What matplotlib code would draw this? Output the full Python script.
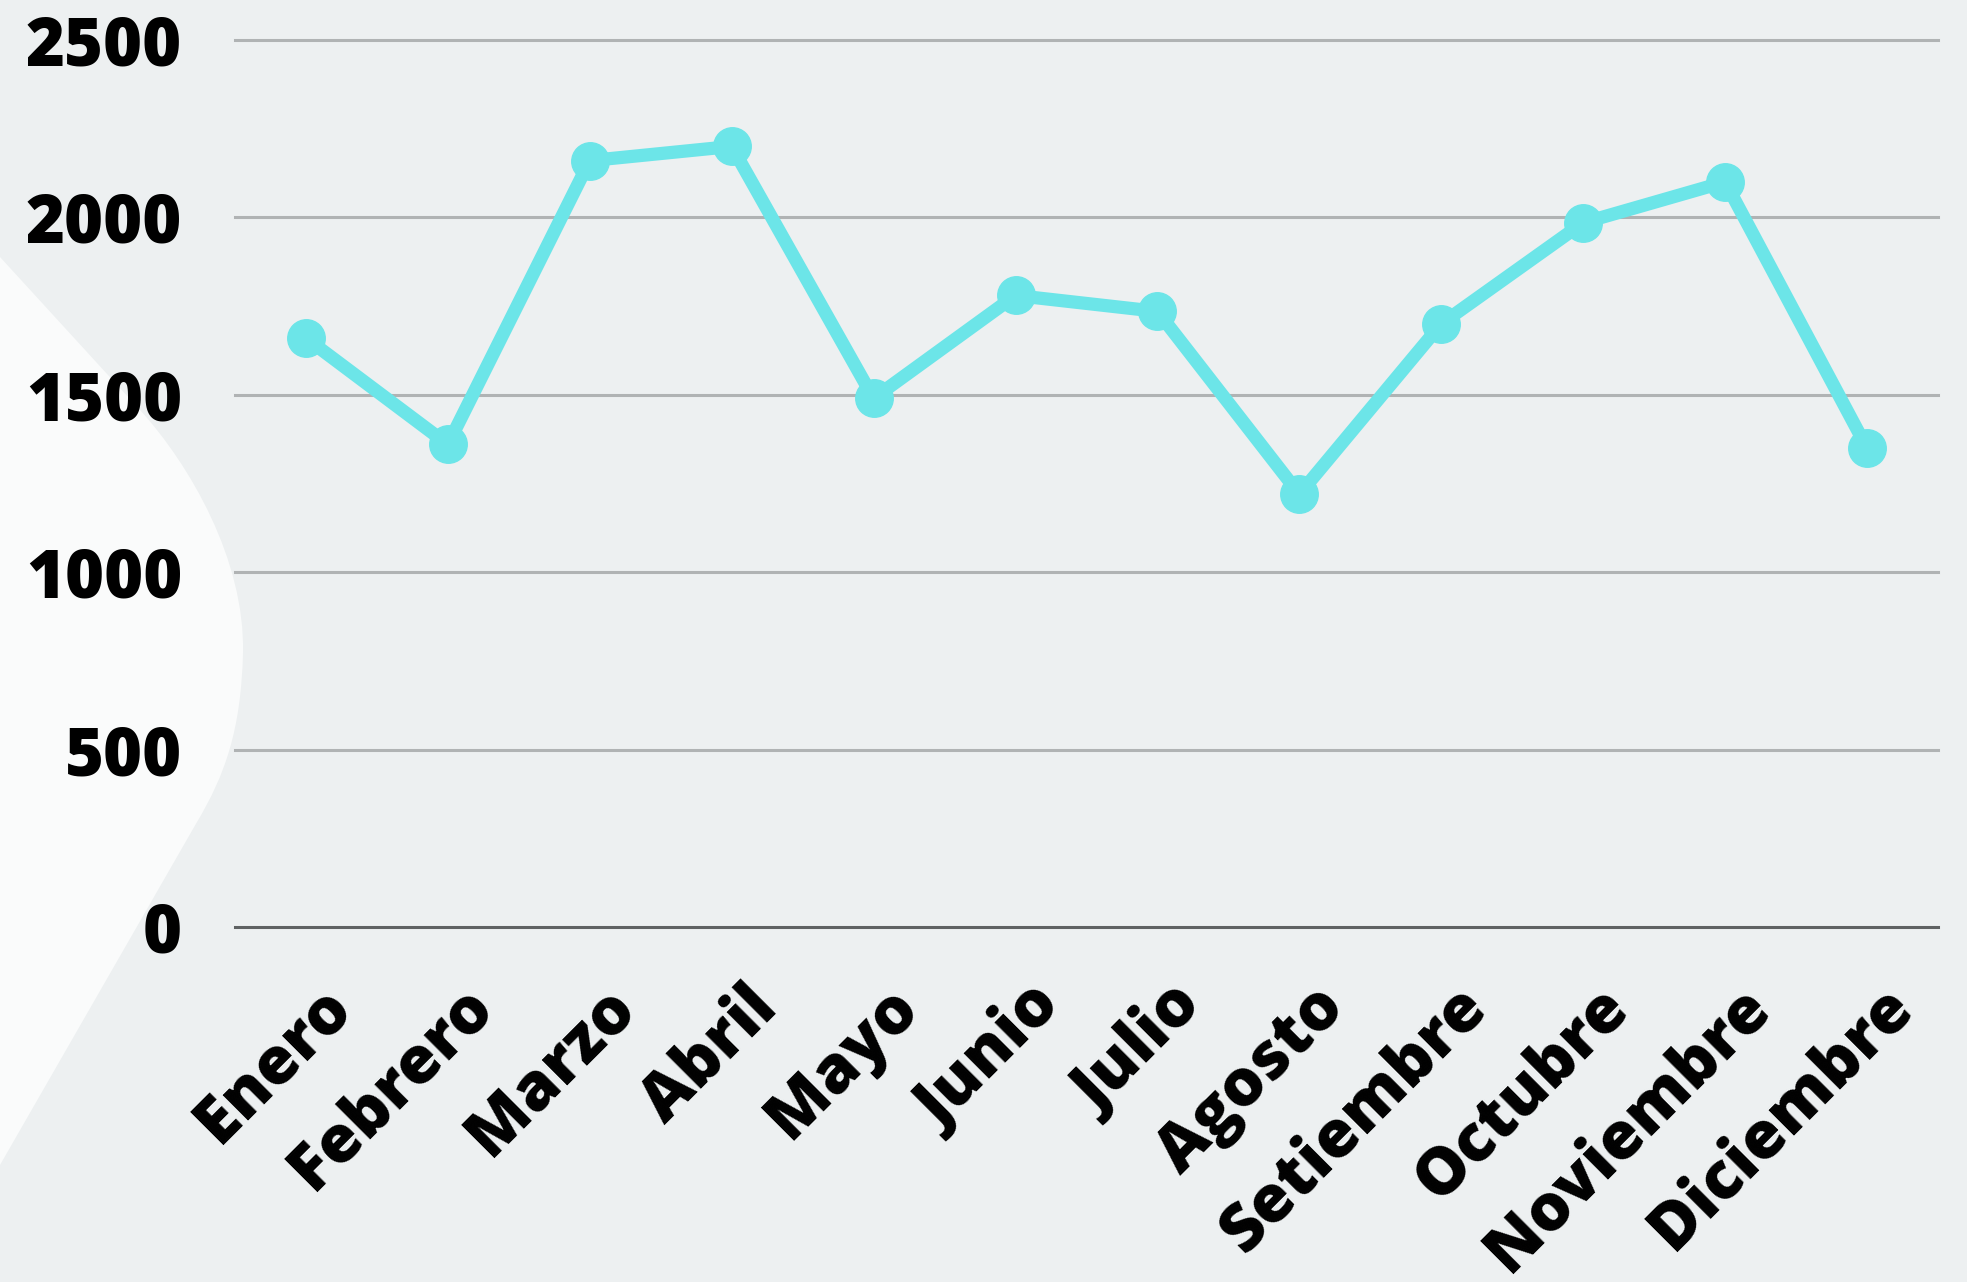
import numpy as np
import matplotlib.pyplot as plt
from matplotlib.path import Path
from matplotlib.patches import PathPatch
from matplotlib.transforms import ScaledTranslation

months = ['Enero', 'Febrero', 'Marzo', 'Abril', 'Mayo', 'Junio', 'Julio',
          'Agosto', 'Setiembre', 'Octubre', 'Noviembre', 'Diciembre']
values = [1660, 1360, 2160, 2200, 1490, 1780, 1735, 1220, 1700, 1985, 2100, 1350]
y_ticks = [0, 500, 1000, 1500, 2000, 2500]

W, H = 1967, 1282
bg = '#edf0f1'
line_c = '#6ce5e8'

fig = plt.figure(figsize=(W / 100, H / 100), dpi=100)
fig.patch.set_facecolor(bg)

# pale blob on the left, drawn in pixel space then mapped to figure fraction
def px(x, y):
    return (x / W, 1 - y / H)

verts = [px(0, 257), px(140, 410),
         px(190, 465), px(245, 560), px(243, 653),
         px(241, 730), px(225, 775), px(197, 822),
         px(0, 1165), px(0, 257)]
codes = [Path.MOVETO, Path.LINETO,
         Path.CURVE4, Path.CURVE4, Path.CURVE4,
         Path.CURVE4, Path.CURVE4, Path.CURVE4,
         Path.LINETO, Path.CLOSEPOLY]
fig.patches.append(PathPatch(Path(verts, codes), transform=fig.transFigure,
                             facecolor='#fafbfb', edgecolor='none', zorder=-5))

ax = fig.add_axes([235 / W, 355 / H, (1938 - 235) / W, (927 - 40) / H])
ax.set_facecolor('none')

x = np.arange(len(months))
for yv in y_ticks:
    ax.axhline(yv, color='#5f6263' if yv == 0 else '#b0b3b4',
               lw=2.2, zorder=1, clip_on=False)

ax.plot(x, values, color=line_c, lw=9.5, marker='o', ms=27,
        solid_joinstyle='round', zorder=3, clip_on=False)

ax.set_xlim(-0.5, len(months) - 0.5)
ax.set_ylim(0, 2500)
for s in ax.spines.values():
    s.set_visible(False)

font = dict(family=['Open Sans', 'DejaVu Sans'], weight='heavy')
ax.set_yticks(y_ticks)
ax.set_yticklabels([str(v) for v in y_ticks], fontsize=48, color='black', **font)
ax.tick_params(axis='y', length=0, pad=38)

ax.set_xticks(x)
ax.set_xticklabels(months, fontsize=47, color='black', rotation=45,
                   ha='right', va='top', rotation_mode='anchor', **font)
ax.tick_params(axis='x', length=0, pad=34)
offset = ScaledTranslation(12 / 100, 0, fig.dpi_scale_trans)
for lbl in ax.get_xticklabels():
    lbl.set_transform(lbl.get_transform() + offset)

fig.savefig('out.png', dpi=100, facecolor=bg)
